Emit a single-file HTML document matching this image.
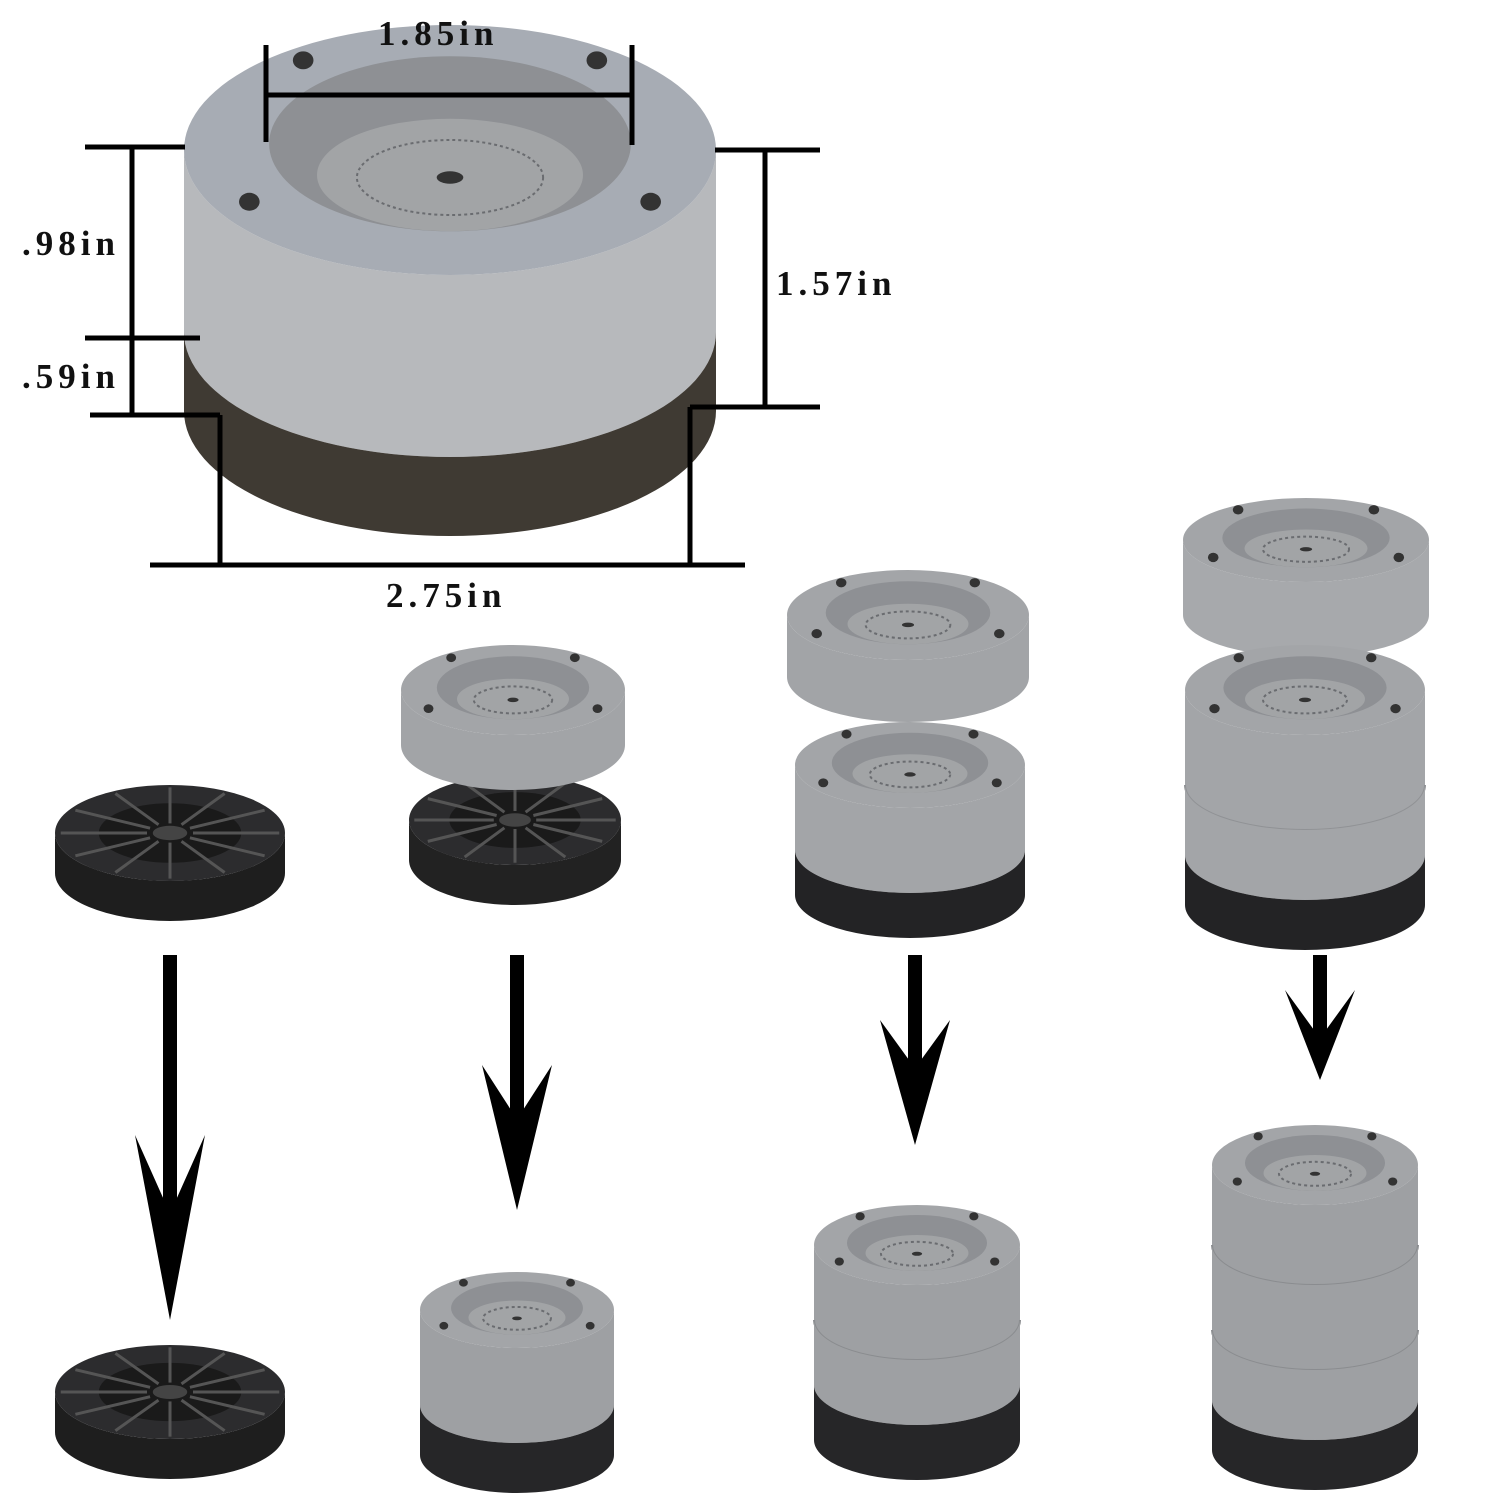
<!DOCTYPE html>
<html><head><meta charset="utf-8"><style>
html,body{margin:0;padding:0;background:#fff;}
svg{display:block}
text{font-family:"Liberation Serif",serif;font-weight:bold;font-size:35px;letter-spacing:5px;fill:#111}
</style></head><body>
<svg id="s" width="1496" height="1500" viewBox="0 0 1496 1500" xmlns="http://www.w3.org/2000/svg">
<g id="g"></g>
<g stroke="#000" stroke-width="5" fill="none">
<line x1="85" y1="147" x2="185" y2="147"/>
<line x1="85" y1="338" x2="200" y2="338"/>
<line x1="90" y1="415" x2="220" y2="415"/>
<line x1="132" y1="147" x2="132" y2="415"/>
<line x1="715" y1="150" x2="820" y2="150"/>
<line x1="690" y1="407" x2="820" y2="407"/>
<line x1="765" y1="150" x2="765" y2="407"/>
<line x1="265" y1="95" x2="632" y2="95"/>
<line x1="266" y1="45" x2="266" y2="142"/>
<line x1="632" y1="45" x2="632" y2="145"/>
<line x1="150" y1="565" x2="745" y2="565"/>
<line x1="220" y1="415" x2="220" y2="565"/>
<line x1="690" y1="407" x2="690" y2="565"/>
</g>
<text x="22" y="255">.98in</text>
<text x="22" y="388">.59in</text>
<text x="776" y="295">1.57in</text>
<text x="378" y="45">1.85in</text>
<text x="386" y="607">2.75in</text>
<g fill="#000">
<rect x="163" y="955" width="14" height="250"/>
<polygon points="170,1320 205,1135 176,1200 164,1200 135,1135"/>
<rect x="510" y="955" width="14" height="160"/>
<polygon points="517,1210 552,1065 523,1110 511,1110 482,1065"/>
<rect x="908" y="955" width="14" height="120"/>
<polygon points="915,1145 950,1020 921,1060 909,1060 880,1020"/>
<rect x="1313" y="955" width="14" height="80"/>
<polygon points="1320,1080 1355,990 1326,1030 1314,1030 1285,990"/>
</g>
</svg>
<script>
var g=document.getElementById('g'),NS='http://www.w3.org/2000/svg';
function el(t,a){var e=document.createElementNS(NS,t);for(var k in a)e.setAttribute(k,a[k]);g.appendChild(e);return e;}
function cyl(cx,ty,rx,ry,bands,type){
  var y0=ty;
  bands.forEach(function(b){
    var y1=y0+b[0];
    el('path',{d:'M'+(cx-rx)+','+y0+' A'+rx+' '+ry+' 0 0 0 '+(cx+rx)+','+y0+' L'+(cx+rx)+','+y1+' A'+rx+' '+ry+' 0 0 1 '+(cx-rx)+','+y1+' Z',fill:b[1]});
    if(b[2])el('path',{d:'M'+(cx-rx)+','+y1+' A'+rx+' '+ry+' 0 0 0 '+(cx+rx)+','+y1,fill:'none',stroke:b[2],'stroke-width':2});
    y0=y1;
  });
  if(type=='black'){
    el('ellipse',{cx:cx,cy:ty,rx:rx,ry:ry,fill:'#2c2c2e'});
    el('ellipse',{cx:cx,cy:ty,rx:rx*0.62,ry:ry*0.62,fill:'#1a1a1a'});
    for(var i=0;i<12;i++){var a=i*Math.PI/6;
      el('line',{x1:cx+Math.cos(a)*rx*0.2,y1:ty+Math.sin(a)*ry*0.2,x2:cx+Math.cos(a)*rx*0.95,y2:ty+Math.sin(a)*ry*0.95,stroke:'#555','stroke-width':3});}
    el('ellipse',{cx:cx,cy:ty,rx:rx*0.15,ry:ry*0.15,fill:'#444'});
  } else {
    var face=type=='big'?'#a7acb4':'#a3a5a8';
    el('ellipse',{cx:cx,cy:ty,rx:rx,ry:ry,fill:face});
    el('ellipse',{cx:cx,cy:ty-ry*0.05,rx:rx*0.68,ry:ry*0.7,fill:'#8e9094'});
    el('ellipse',{cx:cx,cy:ty+ry*0.2,rx:rx*0.5,ry:ry*0.45,fill:'#a2a4a6'});
    el('ellipse',{cx:cx,cy:ty+ry*0.22,rx:rx*0.35,ry:ry*0.3,fill:'none',stroke:'#6a6c70','stroke-width':2,'stroke-dasharray':'3 3'});
    el('ellipse',{cx:cx,cy:ty+ry*0.22,rx:rx*0.05,ry:ry*0.05,fill:'#333'});
    [[-0.6,-0.78],[0.6,-0.78],[-0.82,0.45],[0.82,0.45]].forEach(function(p){
      el('ellipse',{cx:cx+p[0]*rx*0.92,cy:ty+p[1]*ry*0.92,rx:rx*0.035+1,ry:rx*0.03+1,fill:'#333'});});
  }
}
cyl(450,150,266,125,[[182,'#b7b9bc'],[79,'#3f3a33']],'big');
cyl(170,833,115,48,[[40,'#1e1e1e']],'black');
cyl(170,1392,115,47,[[40,'#1e1e1e']],'black');
cyl(515,820,106,45,[[40,'#222']],'black');
cyl(513,690,112,45,[[55,'#a2a4a7']],'g');
cyl(517,1310,97,38,[[95,'#9ea0a3'],[50,'#262628']],'g');
cyl(908,615,121,45,[[62,'#a2a4a7']],'g');
cyl(910,765,115,43,[[85,'#a3a5a8'],[45,'#232325']],'g');
cyl(917,1245,103,40,[[75,'#9ea0a3','#8a8c8f'],[65,'#9ea0a3'],[55,'#262628']],'g');
cyl(1306,540,123,42,[[75,'#a7a9ac']],'g');
cyl(1305,690,120,45,[[95,'#a3a5a8','#909295'],[70,'#a3a5a8'],[50,'#232325']],'g');
cyl(1315,1165,103,40,[[80,'#9ea0a3','#8a8c8f'],[85,'#9ea0a3','#8a8c8f'],[70,'#9ea0a3'],[50,'#262628']],'g');
</script>
</body></html>
